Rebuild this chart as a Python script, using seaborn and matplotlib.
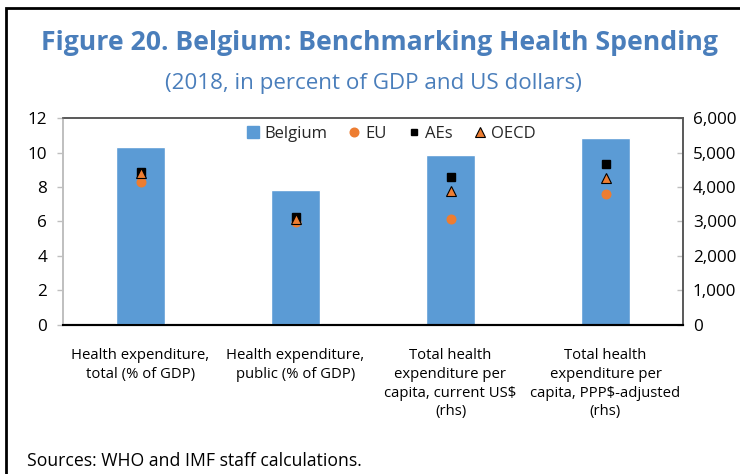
import matplotlib
matplotlib.use("Agg")
import matplotlib.pyplot as plt
import seaborn as sns
import numpy as np
import pandas as pd
from matplotlib.lines import Line2D
from matplotlib.patches import Rectangle

# ---- data ----
categories = [
    "Health expenditure,\ntotal (% of GDP)",
    "Health expenditure,\npublic (% of GDP)",
    "Total health\nexpenditure per\ncapita, current US$\n(rhs)",
    "Total health\nexpenditure per\ncapita, PPP$-adjusted\n(rhs)",
]
on_rhs = [False, False, True, True]
belgium = [10.33, 7.83, 4925, 5435]
eu = [8.28, 5.95, 3070, 3810]
aes = [8.9, 6.24, 4295, 4665]
oecd = [8.8, 6.15, 3880, 4265]

title = "Figure 20. Belgium: Benchmarking Health Spending"
subtitle = "(2018, in percent of GDP and US dollars)"
source = "Sources: WHO and IMF staff calculations."

sns.set_style("white")
plt.rcParams["font.family"] = ["Open Sans", "DejaVu Sans"]

BLUE = "#5B9BD5"
ORANGE = "#ED7D31"
TITLE_C = "#4A7EBB"

fig = plt.figure(figsize=(7.4, 4.74), dpi=100)
ax = fig.add_axes([63 / 740, 1 - 324.7 / 474, 620 / 740, 206.4 / 474])
ax2 = ax.twinx()

df = pd.DataFrame({"cat": categories, "Belgium": belgium, "EU": eu,
                   "AEs": aes, "OECD": oecd, "rhs": on_rhs})
left_df = df[~df["rhs"]]
right_df = df[df["rhs"]]

sns.barplot(data=left_df, x="cat", y="Belgium", order=categories,
            color=BLUE, saturation=1, width=0.31, ax=ax, zorder=1)
sns.barplot(data=right_df, x="cat", y="Belgium", order=categories,
            color=BLUE, saturation=1, width=0.31, ax=ax2, zorder=1)

idx = np.arange(len(categories))
for sub, a in ((left_df, ax), (right_df, ax2)):
    pos = idx[sub.index]
    a.plot(pos, sub["EU"], ls="none", marker="o", ms=6.2, color=ORANGE,
           mec=ORANGE, zorder=3)
    a.plot(pos, sub["AEs"], ls="none", marker="s", ms=5.2, color="black",
           zorder=4)
    a.plot(pos, sub["OECD"], ls="none", marker="^", ms=6.5, color=ORANGE,
           mec="black", mew=0.8, zorder=5)

ax.set_ylim(0, 12)
ax.set_yticks(range(0, 13, 2))
ax2.set_ylim(0, 6000)
ax2.set_yticks(range(0, 6001, 1000))
ax2.set_yticklabels([f"{v:,}" for v in range(0, 6001, 1000)])
ax.set_xlim(-0.5, 3.5)
ax2.set_xlim(-0.5, 3.5)
ax.set_xlabel("")
ax.set_ylabel("")
ax2.set_xlabel("")
ax2.set_ylabel("")

ax.set_xticks(idx)
ax.set_xticklabels(categories, fontsize=10.7, color="black", linespacing=1.36)
ax.set_xticks(np.arange(-0.5, 3.6, 1), minor=True)
ax.tick_params(axis="x", which="major", length=0, pad=16.5)
ax.tick_params(axis="x", which="minor", length=4, width=1, color="black",
               direction="out")
ax.tick_params(axis="y", length=4, width=1, color="#BFBFBF", direction="out",
               labelsize=12.3, labelcolor="black", pad=7.5, left=True)
ax2.tick_params(axis="y", length=4, width=1, color="#BFBFBF", direction="in",
                labelsize=12.3, labelcolor="black", pad=7, right=True)

for a in (ax, ax2):
    a.spines["left"].set_color("#BFBFBF")
    a.spines["left"].set_linewidth(1.2)
    a.spines["top"].set_color("#595959")
    a.spines["top"].set_linewidth(1.2)
    a.spines["right"].set_color("#595959")
    a.spines["right"].set_linewidth(1.2)
    a.spines["bottom"].set_color("black")
    a.spines["bottom"].set_linewidth(1.5)
    for s in a.spines.values():
        s.set_visible(True)
ax.set_zorder(ax2.get_zorder() + 1)
ax.patch.set_visible(False)

handles = [
    Line2D([], [], ls="none", marker="s", ms=8, color=BLUE),
    Line2D([], [], ls="none", marker="o", ms=6.2, color=ORANGE),
    Line2D([], [], ls="none", marker="s", ms=5, color="black"),
    Line2D([], [], ls="none", marker="^", ms=6.5, color=ORANGE, mec="black",
           mew=0.8),
]
ax.legend(handles, ["Belgium", "EU", "AEs", "OECD"], ncol=4, frameon=False,
          loc="upper center", bbox_to_anchor=(0.529, 1.035), fontsize=12,
          handlelength=0.8, handletextpad=0.3, columnspacing=1.2)

fig.text(0.5 + 9 / 740, 1 - 43 / 474, title, ha="center", va="center",
         fontsize=19.2, fontweight="bold", color=TITLE_C)
fig.text(0.5 + 3 / 740, 1 - 83 / 474, subtitle, ha="center", va="center",
         fontsize=16.1, color=TITLE_C)
fig.text(27 / 740, 1 - 461 / 474, source, ha="left", va="center",
         fontsize=12.7, color="black")

fig.patches.append(Rectangle((6 / 740, -0.1), 1.2, 1 - 8 / 474 + 0.1,
                             transform=fig.transFigure, fill=False,
                             edgecolor="black", linewidth=2, zorder=10))

fig.savefig("out.png", dpi=100)
